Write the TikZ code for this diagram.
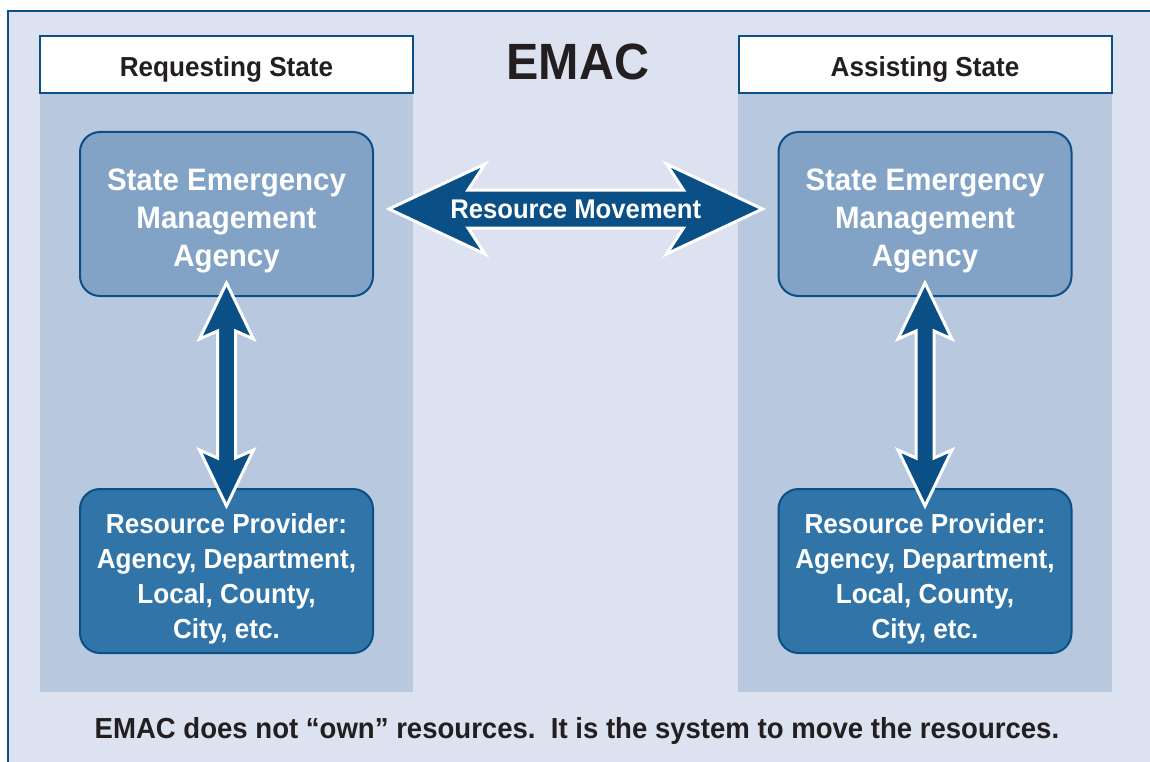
\documentclass[tikz,border=0pt]{standalone}
\usepackage{fontspec}
\setmainfont{Liberation Sans}[FakeStretch=0.95]
\usetikzlibrary{positioning, calc}
\definecolor{emacblue}{HTML}{0B4F87}
\definecolor{framebg}{HTML}{DCE2EF}
\definecolor{panelbg}{HTML}{B8C8DF}
\definecolor{semafill}{HTML}{82A3C6}
\definecolor{provfill}{HTML}{3175A8}
\definecolor{inkblack}{HTML}{231F20}

\begin{document}
\begin{tikzpicture}[x=1pt, y=-1pt,
    every node/.style={font=\bfseries, text=inkblack},
    header/.style={draw=emacblue, fill=white, line width=2pt, minimum width=373pt, minimum height=57pt, font=\bfseries\fontsize{27.5}{30}\selectfont},
    agencybox/.style={draw=emacblue, line width=2pt, rounded corners=20pt, minimum width=293pt, minimum height=164pt, align=center, text=white},
    sema/.style={agencybox, fill=semafill, font=\bfseries\fontsize{31}{38}\selectfont},
    provider/.style={agencybox, fill=provfill, font=\bfseries\fontsize{27.5}{35}\selectfont},
    bigarrow/.style={fill=emacblue, draw=white, line width=3pt, line join=miter}]
    \useasboundingbox (0,0) rectangle (1150,762);
    % frame and state panels
    \fill[framebg] (8,11) rectangle (1150,762);
    \draw[emacblue, line width=2.5pt] (8,762) -- (8,11) -- (1150,11);
    \fill[panelbg] (40,36) rectangle (413,692);
    \fill[panelbg] (738,36) rectangle (1112,692);
    \node[header] (reqhead) at (226.5,64.5) {\rule{0pt}{29pt}Requesting State};
    \node[header] (asshead) at (925,64.5) {\rule{0pt}{29pt}Assisting State};
    \node[font=\bfseries\fontsize{51}{51}\selectfont] (title) at (578,62) {EMAC};
    % agencies and providers
    \node[sema, below=37pt of reqhead] (semaL) {\rule{0pt}{36pt}State Emergency\\Management\\Agency};
    \node[sema, below=37pt of asshead] (semaR) {\rule{0pt}{36pt}State Emergency\\Management\\Agency};
    \node[provider, below=191pt of semaL] (provL) {\rule{0pt}{35pt}Resource Provider:\\Agency, Department,\\Local, County,\\City, etc.};
    \node[provider, below=191pt of semaR] (provR) {\rule{0pt}{35pt}Resource Provider:\\Agency, Department,\\Local, County,\\City, etc.};
    % resource movement between the states
    \coordinate (hl) at ($(semaL.east)+(15,-5)$);
    \coordinate (hr) at ($(semaR.west)+(-15,-5)$);
    \draw[bigarrow] (hl) -- ++(96,-45) -- ++(-17,26) -- ($(hr)+(-79,-19)$) -- ++(-17,-26) -- (hr)
        -- ++(-96,45) -- ++(17,-26) -- ($(hl)+(79,19)$) -- ++(17,26) -- cycle;
    \node[text=white, font=\bfseries\fontsize{27}{30}\selectfont] (move) at ($(hl)!0.5!(hr)$) {Resource Movement};
    % within each state
    \foreach \s in {L,R} {
        \coordinate (ta) at ($(sema\s.south)+(0,-14)$);
        \coordinate (tb) at ($(prov\s.north)+(0,18)$);
        \draw[bigarrow] (ta) -- ++(27,56) -- ++(-18,-8) -- ($(tb)+(9,-48)$) -- ++(18,-8) -- (tb)
            -- ++(-27,-56) -- ++(18,8) -- ($(ta)+(-9,48)$) -- ++(-18,8) -- cycle;
    }
    \node[font=\bfseries\fontsize{29}{32}\selectfont] (note) at (577,731) {EMAC does not \textquotedblleft own\textquotedblright\ resources.\ \ It is the system to move the resources.};
\end{tikzpicture}
\end{document}
